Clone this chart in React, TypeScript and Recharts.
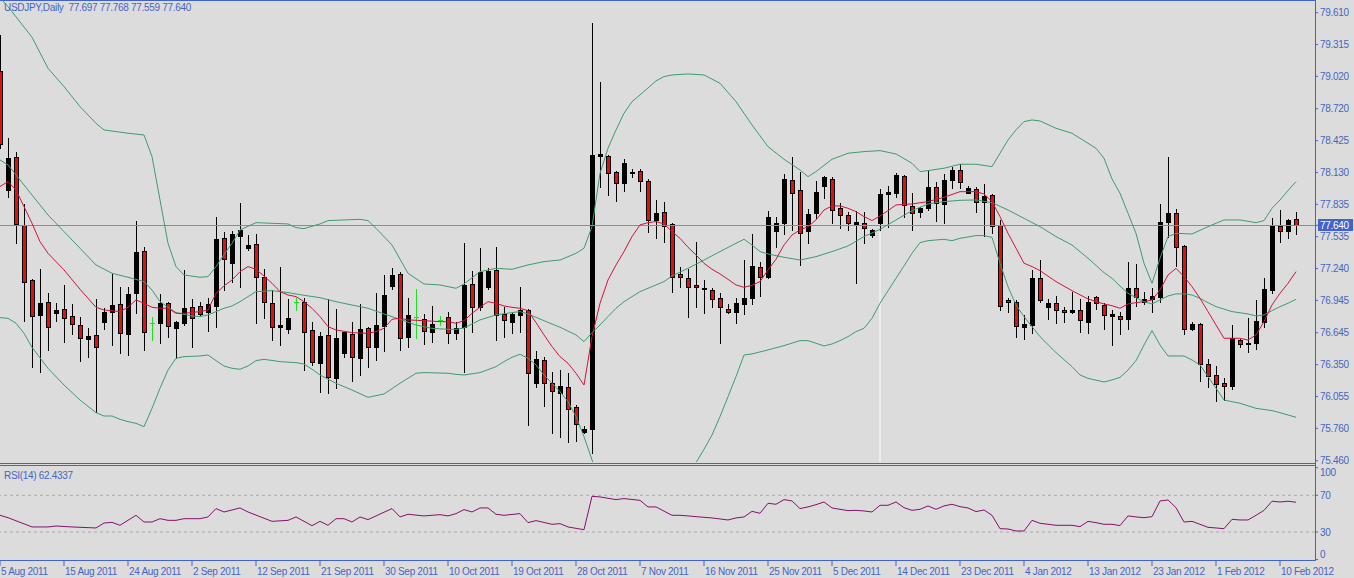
import React from 'react';
import { ComposedChart, Bar, Line, XAxis, YAxis, ReferenceLine } from 'recharts';

const BLUE = '#4262cc';
const TEXT = '#4664c4';
const BG = '#dcdcdc';
const FONT = "'Liberation Sans', Arial, sans-serif";
const RED = '#dd1111';
const DOJI = '#22dd22';
const BAND = '#3c9c6c';
const MA = '#d0143c';
const RSI_COLOR = '#86106c';

const symbolTitle = 'USDJPY,Daily';
const lastOHLC = ['77.697', '77.768', '77.559', '77.640'];
const rsiTitle = 'RSI(14) 62.4337';
const lastPrice = 77.64;

const opens = [
  79.070, 77.968, 78.277, 77.641, 77.134, 76.813, 76.930, 76.832, 76.869, 76.801,
  76.717, 76.591, 76.625, 76.748, 76.841, 76.912, 76.631, 77.011, 77.406, 76.733,
  76.739, 76.918, 76.686, 76.733, 76.881, 76.893, 76.835, 76.896, 77.526, 77.295,
  77.545, 77.428, 77.468, 77.159, 76.918, 76.702, 76.680, 76.934, 76.927, 76.671,
  76.368, 76.625, 76.229, 76.455, 76.634, 76.409, 76.686, 76.510, 76.708, 77.082,
  77.190, 76.603, 76.795, 76.770, 76.649, 76.764, 76.795, 76.646, 76.702, 77.097,
  76.887, 77.066, 77.227, 76.816, 76.748, 76.810, 76.856, 76.183, 76.393, 76.183,
  76.090, 76.140, 75.955, 75.723, 75.754, 78.286, 78.283, 78.138, 78.030, 78.122,
  78.144, 78.051, 77.690, 77.761, 77.650, 77.190, 77.150, 77.088, 77.048, 77.041,
  76.964, 76.862, 76.841, 76.909, 76.970, 77.258, 77.159, 77.591, 77.665, 78.061,
  77.968, 77.588, 77.752, 78.008, 78.067, 77.798, 77.736, 77.650, 77.659, 77.551,
  77.665, 77.928, 77.943, 78.101, 77.820, 77.767, 77.798, 77.992, 77.838, 78.061,
  78.153, 77.943, 77.974, 77.854, 77.921, 77.643, 76.949, 76.927, 76.702, 76.717,
  77.150, 76.887, 76.918, 76.856, 76.835, 76.856, 76.748, 76.980, 76.903, 76.801,
  76.801, 76.770, 77.057, 76.934, 76.955, 76.980, 77.668, 77.758, 77.449, 76.677,
  76.727, 76.353, 76.254, 76.177, 76.155, 76.578, 76.538, 76.548, 76.748, 77.041,
  77.634, 77.591, 77.697,
];
const highs = [
  79.404, 78.453, 78.323, 77.838, 77.140, 77.233, 77.017, 76.918, 77.088, 76.912,
  76.795, 76.686, 76.958, 76.872, 77.190, 77.072, 77.066, 77.684, 77.437, 76.795,
  77.005, 76.934, 76.757, 77.227, 76.958, 76.934, 76.964, 77.721, 77.582, 77.588,
  77.850, 77.551, 77.557, 77.233, 77.041, 77.258, 76.955, 76.964, 76.964, 76.748,
  76.656, 76.958, 76.865, 76.656, 76.748, 76.912, 76.695, 77.017, 77.180, 77.242,
  77.205, 76.970, 77.048, 76.819, 76.893, 76.801, 76.841, 76.748, 77.474, 77.221,
  77.434, 77.242, 77.443, 76.887, 76.841, 77.072, 76.862, 76.479, 76.418, 76.285,
  76.300, 76.270, 75.976, 75.782, 79.518, 78.971, 78.292, 78.147, 78.255, 78.159,
  78.159, 78.070, 77.875, 77.860, 77.659, 77.258, 77.233, 77.489, 77.134, 77.057,
  77.011, 76.912, 76.970, 77.319, 77.557, 77.304, 77.773, 77.714, 78.116, 78.277,
  78.138, 77.789, 78.051, 78.098, 78.092, 77.844, 77.767, 77.773, 77.764, 77.607,
  77.974, 78.005, 78.128, 78.107, 77.937, 77.813, 78.147, 78.045, 78.113, 78.184,
  78.206, 78.005, 77.999, 78.023, 77.928, 77.690, 76.970, 76.949, 76.810, 77.227,
  77.319, 76.958, 76.986, 76.887, 77.020, 76.958, 76.989, 76.989, 76.918, 76.856,
  76.841, 77.304, 77.282, 77.026, 77.057, 77.838, 78.270, 77.789, 77.455, 76.748,
  76.733, 76.399, 76.337, 76.230, 76.717, 76.584, 76.779, 76.949, 77.150, 77.705,
  77.783, 77.696, 77.768,
];
const lows = [
  78.360, 77.906, 77.480, 76.757, 76.331, 76.285, 76.486, 76.757, 76.563, 76.631,
  76.387, 76.424, 75.914, 76.677, 76.532, 76.455, 76.440, 76.825, 76.486, 76.578,
  76.548, 76.603, 76.409, 76.720, 76.517, 76.810, 76.665, 76.702, 77.041, 77.119,
  77.066, 77.412, 76.733, 76.779, 76.578, 76.532, 76.646, 76.856, 76.300, 76.347,
  76.100, 76.091, 76.131, 76.418, 76.202, 76.254, 76.331, 76.393, 76.480, 77.048,
  76.486, 76.517, 76.594, 76.538, 76.563, 76.717, 76.548, 76.584, 76.285, 76.656,
  76.856, 77.048, 76.578, 76.609, 76.640, 76.656, 75.791, 76.140, 75.967, 75.720,
  75.683, 75.636, 75.646, 75.714, 75.534, 77.993, 77.922, 77.869, 77.962, 78.091,
  77.962, 77.582, 77.520, 77.489, 77.026, 77.066, 76.795, 76.887, 76.832, 76.887,
  76.548, 76.826, 76.739, 76.816, 76.909, 76.986, 77.150, 77.437, 77.560, 77.597,
  77.273, 77.474, 77.705, 77.897, 77.665, 77.612, 77.597, 77.109, 77.474, 77.529,
  77.597, 77.628, 77.906, 77.721, 77.597, 77.714, 77.782, 77.684, 77.665, 77.983,
  77.983, 77.943, 77.767, 77.542, 77.566, 76.856, 76.841, 76.603, 76.584, 76.646,
  76.934, 76.770, 76.739, 76.748, 76.826, 76.649, 76.640, 76.866, 76.677, 76.532,
  76.631, 76.677, 76.893, 76.912, 76.841, 76.934, 77.536, 77.267, 76.631, 76.670,
  76.199, 76.140, 76.013, 76.022, 76.121, 76.517, 76.470, 76.492, 76.702, 77.017,
  77.489, 77.526, 77.559,
];
const closes = [
  78.391, 78.264, 77.650, 77.119, 76.804, 76.918, 76.702, 76.856, 76.785, 76.724,
  76.600, 76.615, 76.517, 76.841, 76.903, 76.640, 77.005, 77.390, 76.650, 76.733,
  76.924, 76.711, 76.748, 76.872, 76.779, 76.819, 76.912, 77.511, 77.328, 77.557,
  77.597, 77.459, 77.165, 76.927, 76.702, 76.717, 76.779, 76.934, 76.656, 76.378,
  76.618, 76.239, 76.600, 76.649, 76.418, 76.680, 76.517, 76.717, 76.995, 77.180,
  76.594, 76.810, 76.795, 76.662, 76.727, 76.764, 76.640, 76.686, 77.088, 76.881,
  77.211, 77.221, 76.810, 76.764, 76.819, 76.856, 76.270, 76.399, 76.177, 76.106,
  76.152, 75.936, 75.797, 75.754, 78.292, 78.301, 78.122, 78.036, 78.215, 78.132,
  78.054, 77.690, 77.752, 77.637, 77.159, 77.159, 77.066, 77.066, 77.057, 76.955,
  76.881, 76.835, 76.918, 76.964, 77.264, 77.165, 77.714, 77.659, 78.070, 77.943,
  77.566, 77.745, 77.946, 78.085, 77.782, 77.736, 77.659, 77.668, 77.619, 77.597,
  77.931, 77.952, 78.107, 77.829, 77.752, 77.798, 77.992, 77.844, 78.061, 78.153,
  78.045, 77.983, 77.854, 77.912, 77.637, 76.893, 76.927, 76.711, 76.724, 77.150,
  76.949, 76.918, 76.856, 76.835, 76.856, 76.764, 76.934, 76.918, 76.810, 76.816,
  76.770, 77.057, 76.980, 76.958, 76.986, 77.674, 77.752, 77.443, 76.677, 76.727,
  76.353, 76.248, 76.171, 76.155, 76.594, 76.538, 76.554, 76.754, 77.048, 77.634,
  77.591, 77.690, 77.640,
];

// [bar index, value] readings of the indicator lines
const upperBand: [number, number][] = [
  [0, 79.75], [1, 79.666], [4, 79.382], [6, 79.095], [8, 78.925], [10, 78.74], [12, 78.585], [13, 78.524],
  [16, 78.493], [18, 78.477], [19, 78.277], [20, 77.875], [21, 77.474], [22, 77.258], [23, 77.18],
  [25, 77.159], [26, 77.165], [27, 77.258], [28, 77.37], [29, 77.474], [30, 77.597], [32, 77.665],
  [36, 77.653], [37, 77.619], [38, 77.61], [40, 77.653], [41, 77.684], [45, 77.696], [46, 77.684],
  [47, 77.613], [49, 77.458], [51, 77.196], [53, 77.097], [55, 77.088], [57, 77.057], [58, 77.097],
  [60, 77.211], [62, 77.242], [64, 77.233], [66, 77.273], [68, 77.304], [70, 77.319], [72, 77.381],
  [73, 77.428], [74, 77.628], [75, 78.122], [76, 78.354], [77, 78.524], [78, 78.678], [79, 78.786],
  [80, 78.848], [82, 78.978], [83, 79.018], [84, 79.033], [86, 79.042], [88, 79.033], [90, 78.956],
  [92, 78.786], [94, 78.57], [96, 78.369], [98, 78.252], [100, 78.153], [101, 78.091], [102, 78.138],
  [104, 78.252], [106, 78.308], [108, 78.323], [110, 78.332], [112, 78.301], [114, 78.215], [115, 78.138],
  [116, 78.147], [118, 78.169], [120, 78.206], [122, 78.206], [124, 78.184], [125, 78.308], [126, 78.431],
  [127, 78.524], [128, 78.601], [129, 78.616], [130, 78.607], [132, 78.539], [134, 78.493], [136, 78.4],
  [137, 78.354], [138, 78.261], [139, 78.07], [140, 77.937], [141, 77.752], [142, 77.566], [143, 77.289],
  [144, 77.103], [145, 77.335], [146, 77.536], [147, 77.566], [149, 77.56], [151, 77.628], [153, 77.69],
  [155, 77.69], [157, 77.665], [158, 77.684], [159, 77.798], [160, 77.875], [161, 77.962], [162, 78.045],
];
const middleBand: [number, number][] = [
  [0, 78.246], [1, 78.199], [2, 78.107], [4, 77.921], [6, 77.736], [8, 77.582], [10, 77.428], [12, 77.273],
  [14, 77.196], [16, 77.159], [18, 77.119], [19, 77.041], [20, 76.933], [22, 76.832], [24, 76.801],
  [25, 76.795], [26, 76.81], [28, 76.872], [29, 76.893], [30, 76.933], [31, 76.98], [32, 77.026],
  [34, 77.035], [36, 77.017], [38, 76.992], [40, 76.97], [42, 76.933], [44, 76.902], [46, 76.872],
  [48, 76.819], [50, 76.77], [52, 76.717], [54, 76.686], [56, 76.677], [57, 76.677], [58, 76.689],
  [60, 76.764], [62, 76.81], [64, 76.832], [65, 76.841], [66, 76.819], [68, 76.757], [70, 76.696],
  [72, 76.625], [73, 76.563], [74, 76.646], [75, 76.717], [76, 76.795], [77, 76.872], [78, 76.933],
  [80, 77.026], [82, 77.088], [83, 77.119], [84, 77.171], [86, 77.242], [88, 77.319], [90, 77.397],
  [92, 77.474], [93, 77.511], [94, 77.458], [95, 77.397], [96, 77.375], [98, 77.344], [100, 77.319],
  [102, 77.35], [104, 77.397], [106, 77.449], [108, 77.536], [110, 77.603], [112, 77.69], [114, 77.776],
  [116, 77.838], [118, 77.86], [120, 77.872], [122, 77.875], [124, 77.85], [126, 77.782], [128, 77.705],
  [130, 77.628], [132, 77.536], [134, 77.458], [136, 77.335], [138, 77.202], [139, 77.15], [140, 77.078],
  [141, 77.011], [142, 76.97], [143, 76.933], [144, 76.912], [145, 76.949], [146, 76.986], [147, 77.005],
  [148, 77.005], [149, 76.995], [150, 76.964], [151, 76.924], [152, 76.887], [154, 76.841], [156, 76.819],
  [157, 76.801], [158, 76.81], [159, 76.85], [160, 76.887], [161, 76.918], [162, 76.955],
];
const lowerBand: [number, number][] = [
  [0, 76.785], [1, 76.779], [2, 76.733], [3, 76.64], [4, 76.51], [6, 76.316], [8, 76.161], [10, 76.022],
  [12, 75.905], [13, 75.874], [14, 75.874], [15, 75.843], [16, 75.822], [17, 75.806], [18, 75.775],
  [19, 75.945], [20, 76.131], [21, 76.3], [22, 76.409], [23, 76.424], [25, 76.43], [26, 76.439],
  [27, 76.387], [28, 76.337], [29, 76.316], [30, 76.307], [31, 76.337], [32, 76.387], [33, 76.399],
  [35, 76.378], [37, 76.368], [38, 76.356], [39, 76.307], [40, 76.254], [42, 76.177], [44, 76.115],
  [46, 76.047], [48, 76.078], [50, 76.177], [52, 76.27], [53, 76.276], [56, 76.27], [57, 76.26],
  [58, 76.254], [60, 76.276], [62, 76.331], [63, 76.378], [64, 76.418], [65, 76.446], [66, 76.409],
  [67, 76.347], [68, 76.254], [69, 76.177], [70, 76.1], [71, 76.007], [72, 75.868], [73, 75.683],
  [74, 75.467], [75, 75.25], [76, 75.2], [78, 75.15], [80, 75.15], [82, 75.18], [84, 75.25], [86, 75.38],
  [87, 75.442], [88, 75.566], [89, 75.698], [90, 75.868], [91, 76.053], [92, 76.239], [93, 76.439],
  [94, 76.449], [96, 76.486], [98, 76.526], [100, 76.572], [101, 76.572], [102, 76.548], [103, 76.523],
  [104, 76.541], [105, 76.572], [106, 76.609], [107, 76.656], [108, 76.686], [109, 76.779], [110, 76.918],
  [111, 77.034], [112, 77.15], [113, 77.264], [114, 77.381], [115, 77.48], [116, 77.498], [118, 77.511],
  [119, 77.498], [120, 77.52], [122, 77.545], [123, 77.545], [124, 77.529], [125, 77.289], [126, 77.072],
  [127, 76.902], [128, 76.795], [130, 76.609], [132, 76.461], [134, 76.331], [135, 76.254], [136, 76.223],
  [138, 76.189], [139, 76.208], [140, 76.232], [141, 76.3], [142, 76.387], [143, 76.532], [144, 76.665],
  [145, 76.532], [146, 76.43], [148, 76.43], [149, 76.393], [150, 76.347], [151, 76.239], [152, 76.131],
  [153, 76.022], [155, 75.992], [157, 75.945], [159, 75.924], [160, 75.905], [162, 75.862],
];
const movingAverage: [number, number][] = [
  [0, 78.0], [1, 78.045], [2, 77.968], [3, 77.813], [4, 77.659], [5, 77.489], [6, 77.381], [8, 77.227],
  [10, 77.048], [12, 76.881], [13, 76.856], [15, 76.841], [16, 76.881], [17, 76.949], [18, 76.918],
  [19, 76.881], [20, 76.872], [21, 76.872], [22, 76.825], [23, 76.825], [25, 76.841], [26, 76.856],
  [27, 77.011], [28, 77.079], [29, 77.134], [30, 77.211], [31, 77.258], [32, 77.233], [33, 77.171],
  [34, 77.103], [35, 77.026], [36, 76.995], [37, 76.98], [38, 76.933], [39, 76.872], [40, 76.795],
  [41, 76.702], [42, 76.671], [44, 76.646], [46, 76.64], [47, 76.656], [48, 76.686], [49, 76.77],
  [50, 76.779], [51, 76.764], [53, 76.757], [55, 76.748], [56, 76.748], [57, 76.733], [58, 76.757],
  [59, 76.825], [60, 76.881], [61, 76.933], [62, 76.918], [63, 76.893], [64, 76.881], [65, 76.872],
  [66, 76.85], [67, 76.739], [68, 76.625], [69, 76.517], [70, 76.424], [71, 76.362], [72, 76.27],
  [73, 76.161], [74, 76.609], [75, 76.918], [76, 77.134], [77, 77.273], [78, 77.397], [79, 77.536],
  [80, 77.644], [81, 77.665], [82, 77.675], [83, 77.653], [84, 77.582], [85, 77.52], [86, 77.437],
  [87, 77.366], [88, 77.288], [89, 77.233], [90, 77.19], [91, 77.14], [92, 77.088], [93, 77.066],
  [94, 77.085], [95, 77.119], [96, 77.227], [97, 77.326], [98, 77.458], [99, 77.551], [100, 77.597],
  [101, 77.628], [102, 77.69], [103, 77.782], [104, 77.82], [105, 77.82], [106, 77.798], [107, 77.767],
  [108, 77.721], [109, 77.684], [110, 77.727], [111, 77.776], [112, 77.829], [114, 77.838], [116, 77.86],
  [118, 77.9], [120, 77.952], [122, 77.952], [123, 77.931], [124, 77.86], [125, 77.721], [126, 77.566],
  [127, 77.428], [128, 77.289], [129, 77.258], [130, 77.221], [132, 77.119], [134, 77.035], [136, 76.958],
  [138, 76.912], [139, 76.896], [140, 76.872], [141, 76.912], [142, 76.924], [143, 76.933], [144, 76.949],
  [145, 77.041], [146, 77.18], [147, 77.242], [148, 77.165], [149, 77.072], [150, 76.964], [151, 76.841],
  [152, 76.717], [153, 76.594], [155, 76.594], [156, 76.578], [157, 76.625], [158, 76.748], [159, 76.903],
  [160, 77.011], [161, 77.103], [162, 77.211],
];
const rsiValues: [number, number][] = [
  [0, 48.2], [1, 45.6], [4, 35.5], [6, 35.5], [7, 36.5], [9, 35.5], [12, 34.4], [13, 39.8], [14, 40.5],
  [15, 37.3], [17, 48.2], [18, 40.9], [19, 40.9], [20, 44.5], [21, 42.7], [22, 42.7], [23, 44.5],
  [25, 44.5], [26, 46.4], [27, 55.5], [28, 51.8], [30, 56.2], [31, 51.8], [34, 41.6], [36, 42.7],
  [37, 46.4], [39, 36.9], [40, 41.6], [41, 37.3], [42, 44.5], [43, 44.5], [44, 40.9], [45, 46.4],
  [46, 43.5], [49, 55.5], [50, 46.4], [51, 49.3], [53, 47.5], [55, 48.9], [56, 47.5], [57, 50.0],
  [58, 54.4], [59, 51.8], [60, 56.2], [61, 56.2], [62, 49.3], [63, 48.2], [65, 50.0], [66, 40.2],
  [67, 42.4], [69, 38.4], [70, 39.1], [71, 35.5], [73, 32.5], [74, 68.9], [75, 68.2], [77, 65.3],
  [78, 66.4], [80, 64.5], [81, 57.3], [82, 57.3], [84, 48.2], [85, 48.2], [86, 47.5], [87, 46.7],
  [88, 46.0], [89, 45.3], [90, 44.2], [91, 43.1], [92, 45.3], [93, 46.4], [94, 52.5], [95, 50.4],
  [96, 61.3], [97, 60.2], [98, 65.3], [99, 63.8], [100, 55.5], [101, 57.3], [102, 59.8], [103, 62.7],
  [104, 56.2], [105, 54.7], [106, 53.3], [107, 53.6], [108, 52.9], [109, 51.8], [110, 59.1], [111, 59.1],
  [112, 62.7], [113, 56.5], [114, 53.6], [115, 54.7], [116, 58.4], [117, 54.7], [118, 58.4], [119, 60.2],
  [120, 57.6], [121, 56.2], [122, 52.2], [123, 54.0], [124, 48.2], [125, 33.6], [126, 33.3], [127, 31.1],
  [128, 31.1], [129, 42.7], [130, 39.5], [131, 38.4], [132, 37.3], [133, 37.3], [134, 37.3], [135, 35.8],
  [136, 41.6], [137, 40.2], [138, 38.4], [139, 38.4], [140, 37.0], [141, 47.5], [142, 46.4], [143, 45.6],
  [144, 46.7], [145, 63.8], [146, 64.9], [147, 56.5], [148, 40.9], [149, 41.6], [150, 38.4], [151, 35.1],
  [152, 34.4], [153, 33.6], [154, 43.8], [155, 43.1], [156, 43.1], [157, 48.2], [158, 53.6], [159, 63.5],
  [160, 62.7], [161, 63.5], [162, 62.4337],
];

// one date label every 8 bars, starting at bar 0
const dateLabels = [
  '5 Aug 2011', '15 Aug 2011', '24 Aug 2011', '2 Sep 2011', '12 Sep 2011', '21 Sep 2011', '30 Sep 2011',
  '10 Oct 2011', '19 Oct 2011', '28 Oct 2011', '7 Nov 2011', '16 Nov 2011', '25 Nov 2011', '5 Dec 2011',
  '14 Dec 2011', '23 Dec 2011', '4 Jan 2012', '13 Jan 2012', '23 Jan 2012', '1 Feb 2012', '10 Feb 2012',
];
const labelEvery = 8;
const priceTickLabels = [
  '79.610', '79.315', '79.020', '78.720', '78.425', '78.130', '77.835', '77.535',
  '77.240', '76.945', '76.645', '76.350', '76.055', '75.760', '75.460',
];
const rsiTicks = [0, 30, 70, 100];
const rsiLevels = [30, 70];

type Row = {
  i: number; o: number; h: number; l: number; c: number; range: [number, number];
  up: number | null; mid: number | null; lo: number | null; ma: number | null; rsi: number | null;
};
const rows: Row[] = opens.map((o, i) => ({
  i, o, h: highs[i], l: lows[i], c: closes[i], range: [lows[i], highs[i]],
  up: null, mid: null, lo: null, ma: null, rsi: null,
}));
upperBand.forEach(([i, v]) => { rows[i].up = v; });
middleBand.forEach(([i, v]) => { rows[i].mid = v; });
lowerBand.forEach(([i, v]) => { rows[i].lo = v; });
movingAverage.forEach(([i, v]) => { rows[i].ma = v; });
rsiValues.forEach(([i, v]) => { rows[i].rsi = v; });

const X_DOMAIN: [number, number] = [0, 164.375];
const PRICE_DOMAIN: [number, number] = [75.448, 79.718];
const RSI_DOMAIN: [number, number] = [-1.6, 101.9];
const priceTicks = [...priceTickLabels.map(Number), lastPrice];
const dateTicks = dateLabels.map((_, k) => k * labelEvery);

const textStyle = { fontFamily: FONT, fontSize: 10, letterSpacing: -0.3 };

const Candle = (props: any) => {
  const { x, y, width, height, payload } = props;
  if (payload == null || x == null || y == null) return null;
  const { o, h, l, c } = payload as Row;
  const top = Math.min(y, y + height);
  const bot = Math.max(y, y + height);
  const span = h - l || 1;
  const py = (v: number) => top + ((h - v) / span) * (bot - top);
  const cx = Math.round(x + width / 2);
  const wTop = Math.round(py(h));
  const wBot = Math.round(py(l));
  const wH = Math.max(1, wBot - wTop + 1);
  if (o === c) {
    const yy = Math.round(py(o));
    return (
      <g shapeRendering="crispEdges">
        <rect x={cx} y={wTop} width={1} height={wH} fill={DOJI} />
        <rect x={cx - 2} y={yy} width={5} height={1} fill={DOJI} />
      </g>
    );
  }
  const bTop = Math.round(py(Math.max(o, c)));
  const bBot = Math.round(py(Math.min(o, c)));
  const bh = Math.max(1, bBot - bTop + 1);
  const bull = c > o;
  return (
    <g shapeRendering="crispEdges">
      <rect x={cx} y={wTop} width={1} height={wH} fill="#000" />
      <rect x={cx - 2} y={bTop} width={5} height={bh} fill="#000" />
      {!bull && bh > 2 && <rect x={cx - 1} y={bTop + 1} width={3} height={bh - 2} fill={RED} />}
    </g>
  );
};

const PriceTick = (props: any) => {
  const { x, y, payload } = props;
  const v = Number(payload.value);
  if (v === lastPrice) {
    return (
      <g>
        <rect x={x - 2} y={y - 6} width={35} height={12} fill={BLUE} shapeRendering="crispEdges" />
        <text x={x} y={y} dy="0.355em" fill="#ffffff" textAnchor="start" style={textStyle}>{v.toFixed(3)}</text>
      </g>
    );
  }
  return (
    <text x={x} y={y} dy="0.355em" fill={TEXT} textAnchor="start" style={textStyle}>{v.toFixed(3)}</text>
  );
};

const RsiTick = (props: any) => {
  const { x, y, payload } = props;
  const v = Number(payload.value);
  const shift = v === 100 ? 5 : v === 0 ? -5 : 0;
  return (
    <text x={x} y={y + shift} dy="0.355em" fill={TEXT} textAnchor="start" style={textStyle}>{v}</text>
  );
};

const DateTick = (props: any) => {
  const { x, y, payload } = props;
  const label = dateLabels[Math.round(Number(payload.value) / labelEvery)];
  return (
    <text x={x + 1} y={y} dy={6.5} fill={TEXT} textAnchor="start" style={textStyle}>{label}</text>
  );
};

const hLine = (top: number, width = 1316) => (
  <div style={{ position: 'absolute', left: 0, top, width, height: 1, background: BLUE }} />
);

export default function App() {
  return (
    <div style={{ position: 'absolute', left: 0, top: 0, width: 1354, height: 578, background: BG, overflow: 'hidden' }}>
      <div style={{ position: 'absolute', left: 0, top: 466 }}>
        <ComposedChart width={1354} height={112} data={rows} margin={{ top: 0, right: 0, bottom: 0, left: 0 }}>
          <XAxis
            type="number"
            dataKey="i"
            domain={X_DOMAIN}
            allowDataOverflow
            ticks={dateTicks}
            interval={0}
            height={17}
            axisLine={false}
            tickLine={{ stroke: BLUE }}
            tickSize={5}
            tickMargin={2}
            tick={<DateTick />}
          />
          <YAxis
            orientation="right"
            type="number"
            domain={RSI_DOMAIN}
            allowDataOverflow
            ticks={rsiTicks}
            interval={0}
            width={39}
            axisLine={false}
            tickLine={{ stroke: BLUE }}
            tickSize={3}
            tickMargin={2}
            tick={<RsiTick />}
          />
          {rsiLevels.map((lv) => (
            <ReferenceLine key={lv} y={lv} stroke="#a9a9a9" strokeDasharray="3 3" />
          ))}
          <Line dataKey="rsi" stroke={RSI_COLOR} strokeWidth={1} dot={false} activeDot={false} connectNulls isAnimationActive={false} />
        </ComposedChart>
      </div>
      <div style={{ position: 'absolute', left: 0, top: 0 }}>
        <ComposedChart width={1354} height={470} data={rows} margin={{ top: 1, right: 0, bottom: 8, left: 0 }}>
          <XAxis type="number" dataKey="i" domain={X_DOMAIN} allowDataOverflow hide />
          <YAxis
            orientation="right"
            type="number"
            domain={PRICE_DOMAIN}
            allowDataOverflow
            ticks={priceTicks}
            interval={0}
            width={39}
            axisLine={false}
            tickLine={{ stroke: BLUE }}
            tickSize={3}
            tickMargin={2}
            tick={<PriceTick />}
          />
          <ReferenceLine y={lastPrice} stroke="#7e9494" shapeRendering="crispEdges" />
          <ReferenceLine segment={[{ x: 110, y: 77.58 }, { x: 110, y: PRICE_DOMAIN[0] }]} stroke="#ffffff" />
          <Bar dataKey="range" barSize={5} shape={(p: any) => <Candle {...p} />} isAnimationActive={false} />
          <Line dataKey="up" stroke={BAND} strokeWidth={1} dot={false} activeDot={false} connectNulls isAnimationActive={false} />
          <Line dataKey="mid" stroke={BAND} strokeWidth={1} dot={false} activeDot={false} connectNulls isAnimationActive={false} />
          <Line dataKey="lo" stroke={BAND} strokeWidth={1} dot={false} activeDot={false} connectNulls isAnimationActive={false} />
          <Line dataKey="ma" stroke={MA} strokeWidth={1} dot={false} activeDot={false} connectNulls isAnimationActive={false} />
        </ComposedChart>
      </div>
      {hLine(0)}
      {hLine(463)}
      {hLine(465)}
      {hLine(560)}
      <div style={{ position: 'absolute', left: 1315, top: 0, width: 1, height: 561, background: BLUE }} />
      <div style={{ position: 'absolute', left: 4, top: 3, color: TEXT, fontFamily: FONT, fontSize: 10, lineHeight: '10px', letterSpacing: -0.3, whiteSpace: 'pre' }}>
        {`${symbolTitle}  ${lastOHLC.join(' ')}`}
      </div>
      <div style={{ position: 'absolute', left: 4, top: 471, color: TEXT, fontFamily: FONT, fontSize: 10, lineHeight: '10px', letterSpacing: -0.3, whiteSpace: 'pre' }}>
        {rsiTitle}
      </div>
    </div>
  );
}
